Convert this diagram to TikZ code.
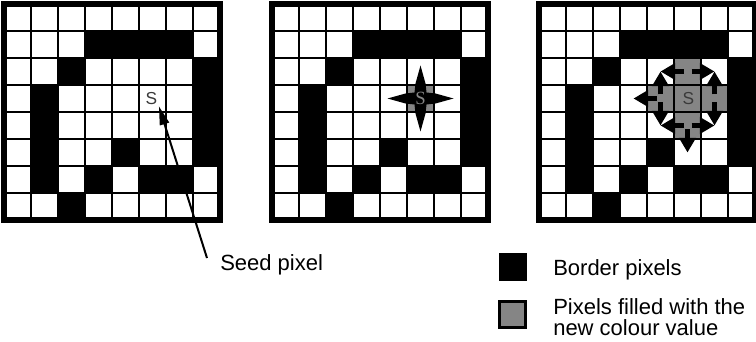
\documentclass[tikz,border=0pt]{standalone}
\usepackage{fontspec}
\setmainfont{Liberation Serif}
\setsansfont{Liberation Sans}
\usetikzlibrary{arrows.meta}
\usepackage{xcolor}
\definecolor{FillGray}{HTML}{858585}
\definecolor{SeedInk}{HTML}{3A3A3A}

\begin{document}
\begin{tikzpicture}[
    x=0.75pt, y=-0.75pt,
    pixline/.style={line width=2.2pt},
    pixframe/.style={line width=3.8pt},
    newpix/.style={fill=FillGray},
    seedmark/.style={font=\sffamily\fontsize{13}{13}\selectfont, color=SeedInk, inner sep=1pt},
    legendtext/.style={font=\sffamily\fontsize{16.5}{16}\selectfont, inner sep=0pt, align=left},
    legendbox/.style={minimum width=21pt, minimum height=21pt, inner sep=0pt},
    spread/.style={-{Triangle[length=11pt,width=12pt]}, line width=3.5pt},
    seedarrow/.style={-{Triangle[length=14pt,width=7pt]}, line width=1.5pt}
]
\useasboundingbox (0,0) rectangle (756,342);

% filled pixels (before the grid lines)
\fill[newpix] (272+5*27,4+3*27) rectangle ++(27,27);
\begin{scope}[shift={(539,4)}]
  \foreach \r/\c in {2/5,3/4,3/5,3/6,4/5}
    \fill[newpix] (27*\c,27*\r) rectangle ++(27,27);
\end{scope}

% the three pixel grids
\foreach \gx in {4,272,539} {
  \begin{scope}[shift={(\gx,4)}]
    \foreach \r/\c in {1/3,1/4,1/5,1/6,2/2,2/7,3/1,3/7,4/1,4/7,5/1,5/4,5/7,6/1,6/3,6/5,6/6,7/2}
      \fill (27*\c,27*\r) rectangle ++(27,27);
    \foreach \i in {1,...,7} {
      \draw[pixline] (27*\i,0) -- (27*\i,216);
      \draw[pixline] (0,27*\i) -- (216,27*\i);
    }
    \draw[pixframe] (0,0) rectangle (216,216);
  \end{scope}
}

% seed pixel
\node[seedmark] (s1) at (151.5,98.5) {S};
\coordinate (seedtail) at (207,258);
\node[legendtext, anchor=base west] (seedlbl) at (220,270) {Seed pixel};
\draw[seedarrow] (seedtail) -- (s1.south east);

% first step: four directions from the seed
\fill (420.5,65.5) -- (425.5,83.5) -- (426.5,92.5) -- (435.5,93.5) -- (453.5,98.5)
  -- (435.5,103.5) -- (426.5,104.5) -- (425.5,113.5) -- (420.5,131.5)
  -- (415.5,113.5) -- (414.5,104.5) -- (405.5,103.5) -- (387.5,98.5)
  -- (405.5,93.5) -- (414.5,92.5) -- (415.5,83.5) -- cycle;
\node[seedmark, font=\rmfamily\fontsize{14}{14}\selectfont, color=FillGray] (s2) at (420.5,98.5) {S};

% second step: spreading from the new pixels
\begin{scope}[shift={(539,4)}]
  \foreach \r/\c/\dr/\dc in {2/5/0/-1,2/5/0/1,3/4/-1/0,3/4/1/0,3/4/0/-1,3/6/-1/0,3/6/1/0,4/5/0/-1,4/5/0/1,4/5/1/0}
    \draw[spread] ({27*\c+13.5+4*\dc},{27*\r+13.5+4*\dr}) -- ++({23*\dc},{23*\dr});
\end{scope}
\node[seedmark] (s3) at (688.5,98.5) {S};

% legend
\node[legendbox, fill=black] (keyborder) at (512.5,267) {};
\node[legendtext, anchor=base west] (lblborder) at (553,275) {Border pixels};
\node[legendbox, newpix, draw=black, line width=1.8pt, minimum width=19.5pt, minimum height=19.5pt] (keyfill) at (512.5,314.5) {};
\node[legendtext, anchor=north west] (lblfill) at (553,298) {Pixels filled with the\\new colour value};
\end{tikzpicture}
\end{document}
